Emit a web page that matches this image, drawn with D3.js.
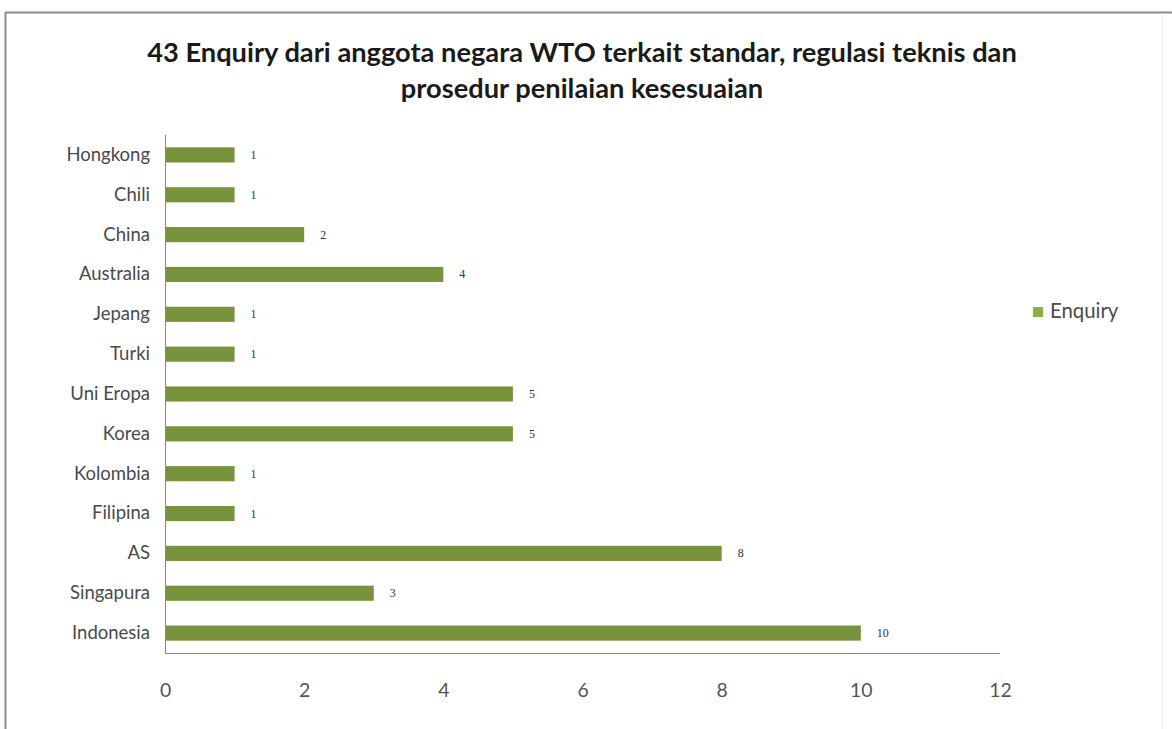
<!DOCTYPE html>
<html><head><meta charset="utf-8">
<script src="https://cdn.jsdelivr.net/npm/d3@7"></script>
<style>body{margin:0;background:#fff}svg{display:block}</style>
</head><body>
<svg id="c" width="1172" height="729"></svg>
<script>
const categories = ["Hongkong","Chili","China","Australia","Jepang","Turki","Uni Eropa","Korea","Kolombia","Filipina","AS","Singapura","Indonesia"];
const values = [1,1,2,4,1,1,5,5,1,1,8,3,10];
const xTicks = [0,2,4,6,8,10,12];
const seriesName = "Enquiry";
const titleLines = ["43 Enquiry dari anggota negara WTO terkait standar, regulasi teknis dan","prosedur penilaian kesesuaian"];

const svg = d3.select("#c");
const font = "Lato, 'Open Sans', sans-serif";
// frame
svg.append("line").attr("x1",5).attr("x2",1172).attr("y1",12.5).attr("y2",12.5).attr("stroke","#8c8c8c").attr("stroke-width",2);
svg.append("line").attr("x1",5.5).attr("x2",5.5).attr("y1",12).attr("y2",729).attr("stroke","#8c8c8c").attr("stroke-width",2);
svg.append("line").attr("x1",1162.5).attr("x2",1162.5).attr("y1",13).attr("y2",729).attr("stroke","#f0f0f0").attr("stroke-width",1);

function fit(t, w){ const l=t.node().getComputedTextLength(); const fs=parseFloat(t.attr("font-size")); return fs*w/l; }

const title = svg.append("g");
const t1 = title.append("text").attr("x",582).attr("y",62).attr("text-anchor","middle").attr("font-family",font).attr("font-weight","bold").attr("font-size",20).attr("fill","#1a1a1a").text(titleLines[0]);
t1.attr("font-size", fit(t1, 870));
const t2 = title.append("text").attr("x",582).attr("y",98).attr("text-anchor","middle").attr("font-family",font).attr("font-weight","bold").attr("font-size",t1.attr("font-size")).attr("fill","#1a1a1a").text(titleLines[1]);

const x = d3.scaleLinear().domain([0,12]).range([165,1000]);
const y = d3.scaleBand().domain(categories).range([135,653]).paddingInner(0.62).paddingOuter(0.31);

// bars
svg.append("g").selectAll("rect").data(values).join("rect")
  .attr("x", x(0)).attr("y",(d,i)=>y(categories[i]))
  .attr("width", d=>x(d)-x(0)).attr("height", y.bandwidth())
  .attr("fill","#77933c");

// value labels
svg.append("g").selectAll("text").data(values).join("text")
  .attr("x", d=>x(d)+16).attr("y",(d,i)=>y(categories[i])+y.bandwidth()/2+4)
  .attr("font-family","'Liberation Serif', 'DejaVu Serif', serif").attr("font-size",12).attr("fill","#333")
  .text(d=>d);

// y axis
const ya = svg.append("g").attr("transform",`translate(${x(0)},0)`).call(d3.axisLeft(y).tickSize(0).tickPadding(15));
ya.select(".domain").attr("stroke","#868686").attr("d",`M0.5,135V653.5`);
ya.selectAll("text").attr("font-family",font).attr("font-size",17).attr("fill","#4a4a4a");
const lastLab = ya.selectAll(".tick text").filter(d=>d==="Indonesia");
const catFs = fit(lastLab, 78);
ya.selectAll("text").attr("font-size", catFs);

// x axis
const xa = svg.append("g").attr("transform",`translate(0,653)`).call(d3.axisBottom(x).tickValues(xTicks).tickSize(0).tickPadding(30).tickFormat(d3.format("d")));
xa.select(".domain").attr("stroke","#868686").attr("d",`M165,0.5H1000`);
xa.selectAll("text").attr("font-family",font).attr("font-size",catFs*1.05).attr("fill","#555");

// legend
svg.append("rect").attr("x",1033).attr("y",307).attr("width",10).attr("height",10).attr("fill","#8db045");
const lg = svg.append("text").attr("x",1050).attr("y",318).attr("font-family",font).attr("font-size",17).attr("fill","#4a4a4a").text(seriesName);
lg.attr("font-size", Math.min(fit(lg, 79), catFs*1.1));
</script>
</body></html>
